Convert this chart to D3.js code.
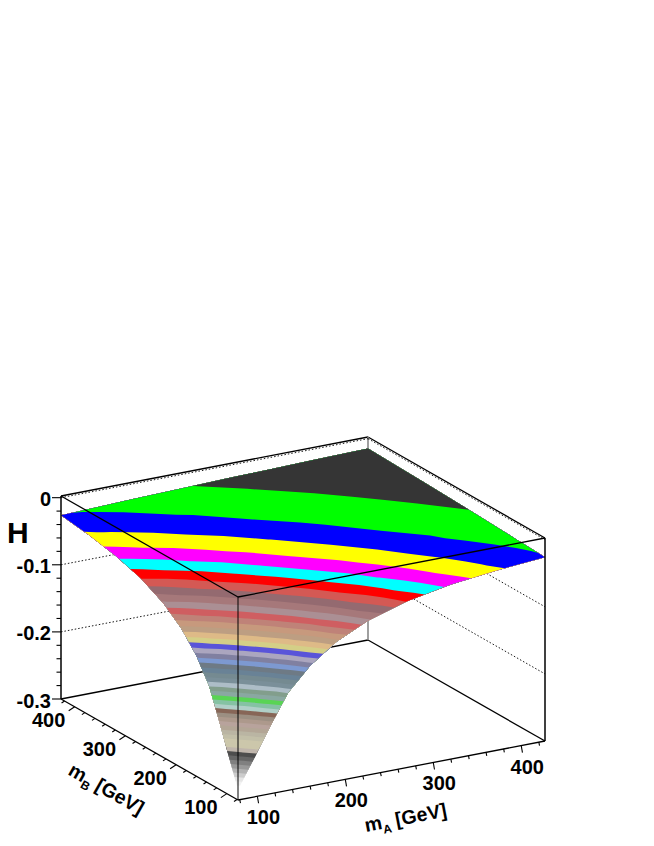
<!DOCTYPE html>
<html>
<head>
<meta charset="utf-8">
<script src="https://cdn.jsdelivr.net/npm/d3@7"></script>
<style>
  html, body { margin: 0; background: #fff; }
  text { font-family: "Liberation Sans", sans-serif; font-weight: bold; fill: #000; }
</style>
</head>
<body>
<div id="chart"></div>
<script>
// grid nodes, same for mA and mB [GeV]
const gridM = [78, 88, 100, 115, 135, 160, 190, 225, 270, 320, 370, 427];

// -H, one row per mB node
const depthB78 = [.2849, .2618, .2342, .1988, .1546, .1205, .0923, .0702, .0521, .0400, .0322, .0260];
const depthB88 = [.2618, .2391, .2108, .1767, .1414, .1116, .0866, .0666, .0502, .0388, .0314, .0257];
const depthB100 = [.2342, .2108, .1848, .1553, .1279, .1024, .0805, .0627, .0480, .0374, .0306, .0253];
const depthB115 = [.1988, .1767, .1553, .1348, .1131, .0923, .0736, .0582, .0453, .0358, .0295, .0246];
const depthB135 = [.1546, .1414, .1279, .1131, .0966, .0802, .0654, .0529, .0420, .0338, .0280, .0238];
const depthB160 = [.1205, .1116, .1024, .0923, .0802, .0683, .0569, .0473, .0383, .0314, .0264, .0228];
const depthB190 = [.0923, .0866, .0805, .0736, .0654, .0569, .0489, .0415, .0345, .0288, .0249, .0216];
const depthB225 = [.0702, .0666, .0627, .0582, .0529, .0473, .0415, .0360, .0308, .0261, .0231, .0203];
const depthB270 = [.0521, .0502, .0480, .0453, .0420, .0383, .0345, .0308, .0267, .0237, .0211, .0188];
const depthB320 = [.0400, .0388, .0374, .0358, .0338, .0314, .0288, .0261, .0237, .0213, .0193, .0174];
const depthB370 = [.0322, .0314, .0306, .0295, .0280, .0264, .0249, .0231, .0211, .0193, .0177, .0161];
const depthB427 = [.0260, .0257, .0253, .0246, .0238, .0228, .0216, .0203, .0188, .0174, .0161, .0148];

// contour bands, top of the surface first
const bandColors = [
  '#353535', '#00ff00', '#0000ff', '#ffff00', '#ff00ff', '#00ffff', '#ff0000',
  '#d45954', '#946a70', '#a6787a', '#ab8f94', '#cf5e61', '#bf8278', '#c7997d', '#bd9e82', '#deba87', '#d4cf87',
  '#5954d9', '#aba6bf', '#8080a1', '#7d99d1', '#6e7a85', '#698296', '#758a91', '#7a8f99', '#adbdc7', '#829e8c', '#8aa8a1',
  '#59d454', '#85c2a3', '#b0cfc7', '#876657', '#9c8f82', '#ad998c', '#b8a39c', '#b3a696', '#bab5a3', '#c2bfa8', '#ccc7ab',
  '#ccc7ab', '#c0b6ac', '#4d4d4d', '#666666', '#808080', '#999999', '#b3b3b3', '#cccccc', '#e6e6e6', '#f2f2f2', '#ffffff'
];

const massTicks = [100, 200, 300, 400];
const hTicks = [0, -0.1, -0.2, -0.3];
const gridLevels = [0, -0.1, -0.2];

const width = 654;
const height = 846;

const hRows = [depthB78, depthB88, depthB100, depthB115, depthB135, depthB160,
  depthB190, depthB225, depthB270, depthB320, depthB370, depthB427];
const hValues = hRows.flat().map(d => -d);
const n = gridM.length;

// uniform levels between the surface max and min
const hMax = -0.0148;
const levelStep = 0.0054;
const levels = d3.range(1, bandColors.length).map(k => hMax - k * levelStep);

const massFrac = d3.scaleLinear().domain([78, 427]).range([0, 1]);
const hPx = d3.scaleLinear().domain([-0.3, 0.0025]).range([0, 203]);
const nodeToMass = d3.scaleLinear().domain(d3.range(n)).range(gridM);

// oblique view of the box
function project(mA, mB, h) {
  const a = massFrac(mA);
  const b = massFrac(mB);
  return [238 + 307 * a - 177 * b, 800 - 59 * a - 101 * b - hPx(h)];
}

function hAt(u, v) {
  const i = Math.min(Math.floor(u), n - 2);
  const j = Math.min(Math.floor(v), n - 2);
  const fu = u - i;
  const fv = v - j;
  const at = (x, y) => hValues[y * n + x];
  return d3.interpolateNumber(
    d3.interpolateNumber(at(i, j), at(i + 1, j))(fu),
    d3.interpolateNumber(at(i, j + 1), at(i + 1, j + 1))(fu)
  )(fv);
}

const svg = d3.select('#chart').append('svg')
  .attr('width', width)
  .attr('height', height)
  .attr('viewBox', `0 0 ${width} ${height}`)
  .style('display', 'block');

const line = d3.line();
const mLo = 78;
const mHi = 427;
const hLo = -0.3;
const hHi = 0.0025;

function edge(g, from, to, stroke, sw, dash) {
  g.append('path')
    .attr('d', line([project(...from), project(...to)]))
    .attr('fill', 'none')
    .attr('stroke', stroke)
    .attr('stroke-width', sw)
    .attr('stroke-dasharray', dash || null);
}

// back of the box, under the surface
const back = svg.append('g').attr('class', 'back');
edge(back, [mLo, mHi, hLo], [mHi, mHi, hLo], '#000', 1.3);
edge(back, [mHi, mHi, hLo], [mHi, mLo, hLo], '#000', 1.3);
edge(back, [mLo, mHi, hHi], [mHi, mHi, hHi], '#000', 1.3);
edge(back, [mHi, mHi, hHi], [mHi, mLo, hHi], '#000', 1.3);
edge(back, [mHi, mHi, hLo], [mHi, mHi, hHi], '#888', 1.6);
gridLevels.forEach(h => {
  edge(back, [mLo, mHi, h], [mHi, mHi, h], '#000', 0.9, '1.5 2');
  edge(back, [mHi, mHi, h], [mHi, mLo, h], '#000', 0.9, '1.5 2');
});

// surface: nested contour regions, lowest first
const contours = d3.contours()
  .size([n, n])
  .thresholds([-1].concat(levels.slice().reverse()))(hValues);

const ringPath = ring => {
  const pts = ring.map(([x, y]) => {
    const u = Math.max(0, Math.min(n - 1, x - 0.5));
    const v = Math.max(0, Math.min(n - 1, y - 0.5));
    return project(nodeToMass(u), nodeToMass(v), hAt(u, v));
  });
  return line(pts) + 'Z';
};

svg.append('g').attr('class', 'surface')
  .selectAll('path')
  .data(contours)
  .join('path')
  .attr('d', c => c.coordinates.map(poly => poly.map(ringPath).join('')).join(''))
  .attr('fill-rule', 'evenodd')
  .attr('fill', (c, i) => bandColors[bandColors.length - 1 - i]);

// front of the box and the axes
const front = svg.append('g').attr('class', 'front');
edge(front, [mLo, mHi, hLo], [mLo, mLo, hLo], '#000', 1.3);
edge(front, [mLo, mLo, hLo], [mHi, mLo, hLo], '#000', 1.3);
edge(front, [mLo, mHi, hLo], [mLo, mHi, hHi], '#000', 1.5);
edge(front, [mHi, mLo, hLo], [mHi, mLo, hHi], '#000', 1.5);
edge(front, [mLo, mHi, hHi], [mLo, mLo, hHi], '#000', 1.3);
edge(front, [mLo, mLo, hHi], [mHi, mLo, hHi], '#000', 1.3);
edge(front, [mLo, mLo, hLo], [mLo, mLo, hHi], 'rgba(0,0,0,0.7)', 1.4);

function tick(p, dx, dy) {
  front.append('path')
    .attr('d', line([p, [p[0] + dx, p[1] + dy]]))
    .attr('stroke', '#000')
    .attr('stroke-width', 1.1);
}

const minorMass = d3.range(80, 428, 20);
minorMass.forEach(m => {
  const major = m % 100 === 0;
  tick(project(m, mLo, hLo), major ? 1.2 : 0.7, major ? 7 : 3.5);
  tick(project(mLo, m, hLo), major ? -6 : -3, major ? 4 : 2);
});
d3.range(0, 15.5).map(k => -k * 0.02).forEach((h, k) => {
  const major = k % 5 === 0;
  tick(project(mLo, mHi, h), major ? -9 : -4.5, 0);
});

const label = (x, y, str, size, anchor) => svg.append('text')
  .attr('x', x)
  .attr('y', y)
  .attr('font-size', size)
  .attr('text-anchor', anchor || 'middle')
  .text(str);

massTicks.forEach(m => {
  const pA = project(m, mLo, hLo);
  const pB = project(mLo, m, hLo);
  label(pA[0] + 6, pA[1] + 28, m, 20);
  label(pB[0] - 26, pB[1] + 20, m, 20);
});
hTicks.forEach(h => {
  const p = project(mLo, mHi, h);
  label(51, p[1] + 8.5, h === 0 ? '0' : h.toFixed(1), 20, 'end');
});

label(7, 543, 'H', 30, 'start');

function axisTitle(x, y, angle, sub) {
  const t = svg.append('text')
    .attr('transform', `translate(${x},${y}) rotate(${angle})`)
    .attr('font-size', 19.5);
  t.append('tspan').text('m');
  t.append('tspan').attr('dy', 5).attr('font-size', 12).text(sub);
  t.append('tspan').attr('dy', -5).attr('dx', 5).text('[GeV]');
}
axisTitle(67, 774, 29.7, 'B');
axisTitle(366, 832, -10.9, 'A');
</script>
</body>
</html>
